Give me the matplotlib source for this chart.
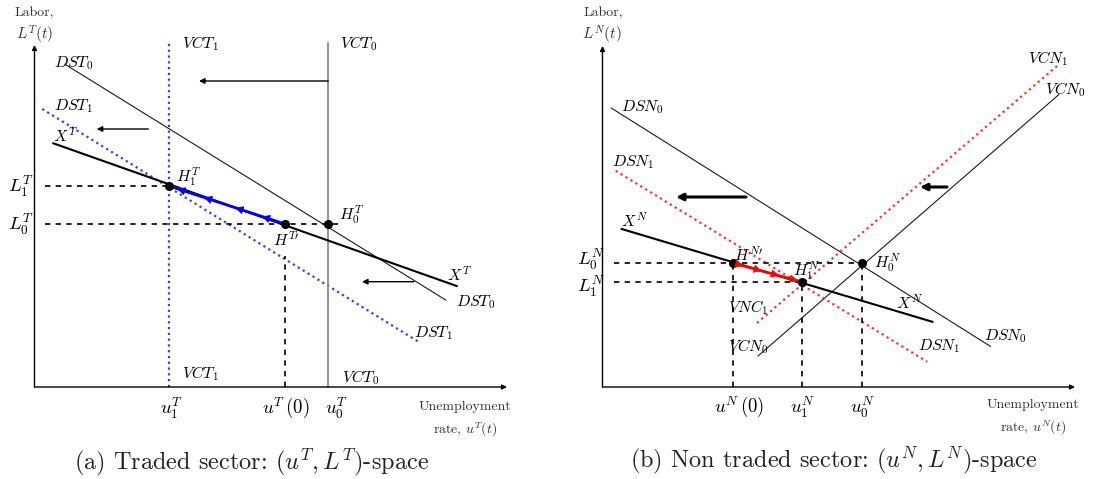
import numpy as np
import matplotlib
matplotlib.use("Agg")
import matplotlib.pyplot as plt

plt.rcParams['mathtext.fontset'] = 'cm'
plt.rcParams['font.family'] = 'serif'
plt.rcParams['font.serif'] = ['cmr10', 'DejaVu Serif']
plt.rcParams['axes.unicode_minus'] = False
plt.rcParams['axes.formatter.use_mathtext'] = True

# ---------------- data: traded sector (u^T, L^T) ----------------
uT_1, uT_init, uT_0 = 134.5, 250.5, 293.0          # u1^T, u^T(0), u0^T
LT_1, LT_0 = 201.0, 163.0                          # L1^T, L0^T
DST0 = ([30.5, 411.2], [322.7, 87.0])
DST1 = ([7.8, 385.5], [278.0, 44.3])
XT = ([18.8, 422.2], [243.7, 101.0])
VCT_top = 343.7
T_axis_max = (472.5, 342.0)
T_shift_arrows = [((293.8, 306.0), (164.5, 306.0)),
                  ((113.8, 258.0), (62.2, 258.0)),
                  ((379.3, 105.3), (327.5, 105.3))]
T_path_fracs = [0.2, 0.43, 0.70, 0.93]

# ---------------- data: non traded sector (u^N, L^N) ----------------
uN_init, uN_1, uN_0 = 130.5, 199.5, 259.5           # u^N(0), u1^N, u0^N
LN_0, LN_1 = 124.0, 105.0
DSN0 = ([8.7, 388.0], [279.0, 40.6])
DSN1 = ([13.2, 324.8], [216.2, 25.2])
VCN0 = ([155.5, 456.3], [31.0, 292.4])
VCN1 = ([154.5, 457.0], [64.0, 323.1])
XN = ([19.2, 329.9], [158.0, 65.2])
N_axis_max = (472.5, 341.0)
N_shift_arrows = [((143.5, 190.0), (73.5, 190.0)),
                  ((344.5, 200.0), (317.5, 200.0))]
N_path_fracs = [0.15, 0.42, 0.67, 0.94]

W, H = 1093, 479
fig = plt.figure(figsize=(W / 100, H / 100), dpi=100)

def panel(ox, oy):
    ax = fig.add_axes([0, 0, 1, 1])
    ax.set_xlim(-ox, W - ox)
    ax.set_ylim(oy - H, oy)
    ax.axis('off')
    ax.patch.set_alpha(0)
    return ax

BLUE_DOT = '#3a3aff'
RED_DOT = '#ff3030'
DOTTED = (0, (1, 1.6))
DASHED = (0, (3.2, 3.2))
THIN = '#1a1a1a'
ML = 11.5  # label size
TK = 13.5  # tick label size
CAP = 17.5
GR = '#333333'

def axes_arrows(ax, xmax, ymax):
    for tip in [(xmax, 0), (0, ymax)]:
        ax.annotate('', xy=tip, xytext=(0, 0),
                    arrowprops=dict(arrowstyle='-|>', lw=1.0, color='black',
                                    mutation_scale=7, shrinkA=0, shrinkB=0))

def harrow(ax, start, end, lw, ms):
    ax.annotate('', xy=end, xytext=start,
                arrowprops=dict(arrowstyle='-|>', lw=lw, color='black',
                                mutation_scale=ms, shrinkA=0, shrinkB=0))

def path_arrows(ax, p0, p1, fracs, color):
    p0 = np.array(p0, float); p1 = np.array(p1, float)
    ax.plot([p0[0], p1[0]], [p0[1], p1[1]], color=color, lw=2.0, solid_capstyle='butt')
    d = p1 - p0
    for f in fracs:
        tip = p0 + f * d
        tail = tip - 0.02 * d
        ax.annotate('', xy=tip, xytext=tail,
                    arrowprops=dict(arrowstyle='-|>', lw=0.5, color=color,
                                    mutation_scale=13, shrinkA=0, shrinkB=0))

# ====================== left panel ======================
ax = panel(34.5, 387)
axes_arrows(ax, *T_axis_max)
ax.plot(*DST0, color=THIN, lw=0.8)
ax.plot(*DST1, color=BLUE_DOT, lw=1.6, ls=DOTTED)
ax.plot([uT_1, uT_1], [0, VCT_top], color=BLUE_DOT, lw=1.6, ls=DOTTED)
ax.plot([uT_0, uT_0], [0, VCT_top], color='#8a8a8a', lw=1.3)
ax.plot(*XT, color='black', lw=1.5)
ax.plot([10.5, uT_1], [LT_1, LT_1], color='black', lw=1.2, ls=DASHED)
ax.plot([10.5, uT_0 + 10.5], [LT_0, LT_0], color='black', lw=1.2, ls=DASHED)
ax.plot([uT_init, uT_init], [0, 131], color='black', lw=1.2, ls=DASHED)
path_arrows(ax, (uT_init, LT_0), (uT_1, LT_1), T_path_fracs, '#0000ff')
ax.plot([uT_1, uT_init, uT_0], [LT_1, LT_0, LT_0], 'o', color='black', ms=5.5)
for s, e in T_shift_arrows:
    harrow(ax, s, e, 1.0, 8)

ax.text(0, 373.5, 'Labor,', ha='center', va='center', fontsize=10, color=GR)
ax.text(0, 352, r'$L^T(t)$', ha='center', va='center', fontsize=11, color=GR)
ax.text(147.2, 343.7, r'$VCT_1$', ha='left', va='center', fontsize=ML)
ax.text(305.5, 343.7, r'$VCT_0$', ha='left', va='center', fontsize=ML)
ax.text(147, 13.5, r'$VCT_1$', ha='left', va='center', fontsize=ML)
ax.text(307.5, 9, r'$VCT_0$', ha='left', va='center', fontsize=ML)
ax.text(19.8, 323.7, r'$DST_0$', ha='left', va='center', fontsize=ML)
ax.text(19.8, 281, r'$DST_1$', ha='left', va='center', fontsize=ML)
ax.text(18.5, 252, r'$X^T$', ha='left', va='center', fontsize=ML)
ax.text(141.5, 210.3, r'$H_1^T$', ha='left', va='center', fontsize=ML)
ax.text(304.8, 172, r'$H_0^T$', ha='left', va='center', fontsize=ML)
ax.text(238.2, 147.7, r"$H^{T\prime}$", ha='left', va='center', fontsize=ML)
ax.text(412.2, 113, r'$X^T$', ha='left', va='center', fontsize=ML)
ax.text(421.5, 85.3, r'$DST_0$', ha='left', va='center', fontsize=ML)
ax.text(379.5, 54.3, r'$DST_1$', ha='left', va='center', fontsize=ML)
ax.text(-13.8, LT_1, r'$L_1^T$', ha='center', va='center', fontsize=TK)
ax.text(-13.8, LT_0, r'$L_0^T$', ha='center', va='center', fontsize=TK)
ax.text(uT_1 + 3, -21, r'$u_1^T$', ha='center', va='center', fontsize=TK)
ax.text(uT_init + 1, -21, r'$u^T\,(0)$', ha='center', va='center', fontsize=TK)
ax.text(uT_0 + 9, -21, r'$u_0^T$', ha='center', va='center', fontsize=TK)
ax.text(430.5, -20, 'Unemployment', ha='center', va='center', fontsize=10, color=GR)
ax.text(430.5, -43, r'rate, $u^T(t)$', ha='center', va='center', fontsize=10, color=GR)
ax.text(217, -75, r'(a) Traded sector: $(u^T, L^T)$-space', ha='center', va='center',
        fontsize=CAP, color='#222222')

# ====================== right panel ======================
ax = panel(602.5, 387)
axes_arrows(ax, *N_axis_max)
ax.plot(*DSN0, color=THIN, lw=0.8)
ax.plot(*VCN0, color=THIN, lw=0.8)
ax.plot(*DSN1, color=RED_DOT, lw=1.6, ls=DOTTED)
ax.plot(*VCN1, color=RED_DOT, lw=1.6, ls=DOTTED)
ax.plot(*XN, color='black', lw=1.5)
ax.plot([11, uN_0], [LN_0, LN_0], color='black', lw=1.2, ls=DASHED)
ax.plot([11, uN_1], [LN_1, LN_1], color='black', lw=1.2, ls=DASHED)
for uu, ll in [(uN_init, LN_0), (uN_1, LN_1), (uN_0, LN_0)]:
    ax.plot([uu, uu], [0, ll], color='black', lw=1.2, ls=DASHED)
path_arrows(ax, (uN_init, LN_0), (uN_1, LN_1), N_path_fracs, '#ff0000')
ax.plot([uN_init, uN_1, uN_0], [LN_0, LN_1, LN_0], 'o', color='black', ms=5.5)
for s, e in N_shift_arrows:
    harrow(ax, s, e, 2.2, 10)

ax.text(0.5, 373.5, 'Labor,', ha='center', va='center', fontsize=10, color=GR)
ax.text(-1, 352, r'$L^N(t)$', ha='center', va='center', fontsize=11, color=GR)
ax.text(18.5, 280, r'$DSN_0$', ha='left', va='center', fontsize=ML)
ax.text(9.5, 225, r'$DSN_1$', ha='left', va='center', fontsize=ML)
ax.text(18.2, 166.3, r'$X^N$', ha='left', va='center', fontsize=ML)
ax.text(425.5, 328, r'$VCN_1$', ha='left', va='center', fontsize=ML)
ax.text(442.5, 297.5, r'$VCN_0$', ha='left', va='center', fontsize=ML)
ax.text(131.5, 133, r"$H^{N\prime}$", ha='left', va='center', fontsize=ML)
ax.text(190.5, 116, r'$H_1^N$', ha='left', va='center', fontsize=ML)
ax.text(271, 124.3, r'$H_0^N$', ha='left', va='center', fontsize=ML)
ax.text(294, 85, r'$X^N$', ha='left', va='center', fontsize=ML)
ax.text(125, 79, r'$VNC_1$', ha='left', va='center', fontsize=ML)
ax.text(125, 40.6, r'$VCN_0$', ha='left', va='center', fontsize=ML)
ax.text(381, 51, r'$DSN_0$', ha='left', va='center', fontsize=ML)
ax.text(315.5, 41, r'$DSN_1$', ha='left', va='center', fontsize=ML)
ax.text(-11.8, 128, r'$L_0^N$', ha='center', va='center', fontsize=TK)
ax.text(-11.8, 100.4, r'$L_1^N$', ha='center', va='center', fontsize=TK)
ax.text(uN_init + 6, -20, r'$u^N\,(0)$', ha='center', va='center', fontsize=TK)
ax.text(uN_1 + 1, -20, r'$u_1^N$', ha='center', va='center', fontsize=TK)
ax.text(uN_0 + 1, -20, r'$u_0^N$', ha='center', va='center', fontsize=TK)
ax.text(430.5, -18, 'Unemployment', ha='center', va='center', fontsize=10, color=GR)
ax.text(430.5, -41, r'rate, $u^N(t)$', ha='center', va='center', fontsize=10, color=GR)
ax.text(231, -73, r'(b) Non traded sector: $(u^N, L^N)$-space', ha='center', va='center',
        fontsize=CAP, color='#222222')

fig.savefig('out.png', dpi=100)
